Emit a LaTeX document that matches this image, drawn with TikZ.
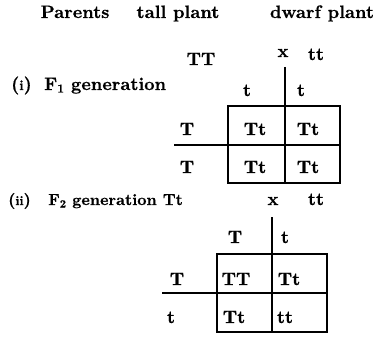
\documentclass[tikz,border=0pt]{standalone}
\usepackage{fontspec}
\newfontfamily\heavy{lmroman10-bold.otf}[FakeBold=0.6]
\begin{document}
\begin{tikzpicture}[x=1pt,y=-1pt,
  lbl/.style={font=\fontsize{18}{20}\selectfont\heavy, inner sep=0pt, anchor=base},
  small/.style={font=\fontsize{16}{18}\selectfont\heavy},
  grid/.style={line width=1.5pt, black}]
\useasboundingbox (0,0) rectangle (379,339);
% header
\node[lbl] (par) at (75,18) {Parents};
\node[lbl] (tall) at (178,18) {tall plant};
\node[lbl] (dwarf) at (322,18) {dwarf plant};
\node[lbl] (TT) at (201,65) {TT};
\node[lbl] (x1) at (283,57) {x};
\node[lbl] (tt1) at (316,60) {tt};
% F1
\node[lbl,anchor=base west] (i) at (11,90) {({\fontsize{14}{14}\selectfont i})};
\node[lbl,anchor=base west] (F1) at (44,90) {F{\fontsize{12}{12}\selectfont\raisebox{-2.5pt}{1}} generation};
\node[lbl] (c1) at (247,96) {t};
\node[lbl] (c2) at (301,96) {t};
\node[lbl] (r1) at (187,135) {T};
\node[lbl] (r2) at (187,173) {T};
\node[lbl] (a11) at (255,135) {Tt};
\node[lbl] (a12) at (308,135) {Tt};
\node[lbl] (a21) at (255,173) {Tt};
\node[lbl] (a22) at (308,173) {Tt};
\coordinate (t1) at (285,67);
\coordinate (b1) at (285,183);
\draw[grid] (228,106) rectangle (340,183);
\draw[grid] (t1) -- (b1);
\draw[grid] (174,145) -- (340,145);
% F2
\node[lbl,small,anchor=base west] (ii) at (8,205) {({\fontsize{13}{14}\selectfont ii})};
\node[lbl,small,anchor=base west] (F2) at (48,205) {F{\fontsize{11}{12}\selectfont\raisebox{-2.5pt}{2}} generation Tt};
\node[lbl] (x2) at (273,205) {x};
\node[lbl] (tt2) at (316,205) {tt};
\node[lbl] (d1) at (235,243) {T};
\node[lbl] (d2) at (285,243) {t};
\node[lbl] (s1) at (177,285) {T};
\node[lbl] (s2) at (171,323) {t};
\node[lbl] (b11) at (236,285) {TT};
\node[lbl] (b12) at (289,285) {Tt};
\node[lbl] (b21) at (234,323) {Tt};
\node[lbl] (b22) at (285,323) {tt};
\coordinate (t2) at (272,217);
\coordinate (b2) at (272,332);
\draw[grid] (217,254) rectangle (327,332);
\draw[grid] (t2) -- (b2);
\draw[grid] (162,293) -- (327,293);
\end{tikzpicture}
\end{document}
